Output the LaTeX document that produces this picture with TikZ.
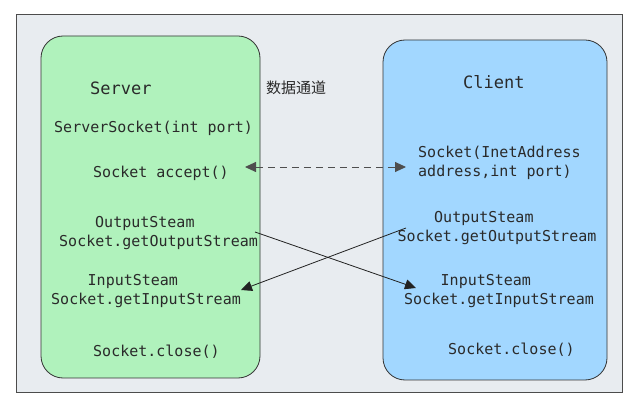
\documentclass[tikz,border=0pt]{standalone}
\usepackage{fontspec}
\setmonofont{DejaVu Sans Mono}
\newfontfamily\cjk{Noto Sans CJK SC}
\usetikzlibrary{arrows.meta}
\definecolor{bgc}{HTML}{E8ECF0}
\definecolor{greenc}{HTML}{B0F2BC}
\definecolor{bluec}{HTML}{A2D7FF}
\definecolor{linec}{HTML}{222222}
\definecolor{txtc}{HTML}{2A2A2A}
\tikzset{
  frame/.style={draw=black!70,fill=bgc,line width=0.8pt},
  panel/.style={draw=black!80,line width=0.8pt,rounded corners=22pt},
  lbl/.style={anchor=base west,inner sep=0pt,font=\ttfamily\fontsize{15}{18}\selectfont,text=txtc},
  ttl/.style={lbl,font=\ttfamily\fontsize{17}{20}\selectfont},
  conn/.style={draw=linec,line width=0.8pt,-{Triangle[length=11pt,width=10pt]}},
  dconn/.style={draw=linec!80,line width=0.9pt,dash pattern=on 7pt off 5pt,{Triangle[length=11pt,width=10pt]}-{Triangle[length=11pt,width=10pt]}}
}
\begin{document}
\begin{tikzpicture}[x=1pt,y=-1pt]
\useasboundingbox (0,0) rectangle (638,406);
\fill[white] (0,0) rectangle (638,406);
\path[frame] (16,14) rectangle (622,392);
\path[panel,fill=greenc] (41,36) rectangle (260,378);
\path[panel,fill=bluec] (383,40) rectangle (607,380);

\node[ttl] (server) at (90,95) {Server};
\node[lbl] (ss) at (54,133) {ServerSocket(int port)};
\node[lbl] (acc) at (93,178) {Socket accept()};
\node[lbl] (sout1) at (95,228) {OutputSteam};
\node[lbl] (sout2) at (59,247) {Socket.getOutputStream};
\node[lbl] (sin1) at (87.5,286) {InputSteam};
\node[lbl] (sin2) at (51,305) {Socket.getInputStream};
\node[lbl] (sclose) at (93,356) {Socket.close()};

\node[anchor=base west,inner sep=0pt,font=\cjk\fontsize{15}{18}\selectfont,text=txtc] (chan) at (266,94) {数据通道};

\node[ttl] (client) at (463,89) {Client};
\node[lbl] (cs1) at (418,158) {Socket(InetAddress};
\node[lbl] (cs2) at (418,177) {address,int port)};
\node[lbl] (cout1) at (434,223) {OutputSteam};
\node[lbl] (cout2) at (397.5,242) {Socket.getOutputStream};
\node[lbl] (cin1) at (440.5,286) {InputSteam};
\node[lbl] (cin2) at (404,305) {Socket.getInputStream};
\node[lbl] (cclose) at (448,355) {Socket.close()};

\coordinate (dl) at (245,167);
\coordinate (dr) at (406,167);
\coordinate (so) at (255,232);
\coordinate (ci) at (416,288);
\coordinate (co) at (406,228);
\coordinate (si) at (241,290);

\draw[dconn] (dl) -- (dr);
\draw[conn] (so) -- (ci);
\draw[conn] (co) -- (si);
\end{tikzpicture}
\end{document}
